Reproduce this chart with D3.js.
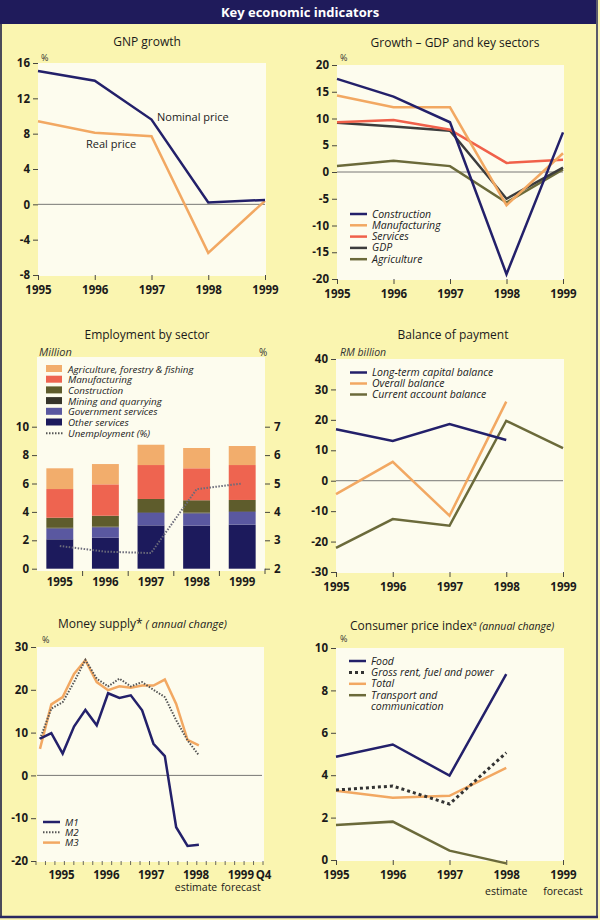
<!DOCTYPE html>
<html><head><meta charset="utf-8">
<script src="https://cdn.jsdelivr.net/npm/d3@7"></script>
<style>
body{margin:0;background:#faf6b4}
svg{display:block}
text{font-family:"Open Sans","Noto Sans",sans-serif;}
</style>
</head><body>
<script>
// ---------- DATA ----------
const years = [1995, 1996, 1997, 1998, 1999];

// GNP growth (%)
const gnpNominal = [15.1, 14.0, 9.6, 0.2, 0.5];
const gnpReal = [9.4, 8.1, 7.7, -5.5, 0.4];
const gnpTicks = [-8, -4, 0, 4, 8, 12, 16];

// Growth - GDP and key sectors (%)
const growthConstruction = [17.4, 14.1, 9.3, -19.1, 7.4];
const growthManufacturing = [14.3, 12.1, 12.1, -6.2, 3.5];
const growthServices = [9.3, 9.7, 7.9, 1.7, 2.3];
const growthGDP = [9.2, 8.5, 7.7, -5.0, 0.8];
const growthAgriculture = [1.1, 2.1, 1.1, -5.7, 0.5];
const growthTicks = [-20, -15, -10, -5, 0, 5, 10, 15, 20];

// Employment by sector (million) and unemployment (%)
const empOther = [2.07, 2.18, 3.05, 3.03, 3.10];
const empGovernment = [0.77, 0.74, 0.89, 0.87, 0.91];
const empMining = [0.04, 0.04, 0.05, 0.05, 0.05];
const empConstruction = [0.71, 0.77, 0.92, 0.87, 0.78];
const empManufacturing = [2.02, 2.21, 2.39, 2.25, 2.46];
const empAgriculture = [1.46, 1.43, 1.43, 1.43, 1.34];
const unemployment = [2.8, 2.6, 2.55, 4.8, 5.0];
const empTicks = [0, 2, 4, 6, 8, 10];
const unempTicks = [2, 3, 4, 5, 6, 7];

// Balance of payment (RM billion)
const bopLongTerm = [16.9, 13.1, 18.6, 13.4];
const bopOverall = [-4.4, 6.2, -11.5, 26.0];
const bopCurrent = [-22.1, -12.6, -14.8, 19.7, 10.7];
const bopTicks = [-30, -20, -10, 0, 10, 20, 30, 40];

// Money supply (annual change, %), quarterly
const moneyQuarters = ["1994Q4","1995Q1","1995Q2","1995Q3","1995Q4","1996Q1","1996Q2","1996Q3","1996Q4","1997Q1","1997Q2","1997Q3","1997Q4","1998Q1","1998Q2"];
const m1 = [8.6, 9.9, 5.1, 11.4, 15.3, 11.7, 19.2, 18.1, 18.7, 15.2, 7.4, 4.5, -12.1, -16.5, -16.2];
const m2 = [8.5, 15.6, 17.1, 21.8, 27.0, 22.6, 20.8, 22.6, 20.8, 21.8, 20.0, 18.3, 12.9, 8.2, 4.7];
const m3 = [6.2, 16.6, 18.3, 23.7, 26.9, 21.8, 19.9, 20.8, 20.5, 21.0, 21.0, 22.4, 16.7, 8.3, 7.0];
const moneyTicks = [-20, -10, 0, 10, 20, 30];
const moneyYearLabels = ["1995", "1996", "1997", "1998", "1999", "Q4"];
const moneySubLabels = ["", "", "", "estimate", "forecast", ""];

// Consumer price index (annual change, %)
const cpiFood = [4.87, 5.45, 3.98, 8.77];
const cpiRent = [3.30, 3.49, 2.64, 5.06];
const cpiTotal = [3.27, 2.94, 3.03, 4.35];
const cpiTransport = [1.65, 1.81, 0.44, -0.16];
const cpiTicks = [0, 2, 4, 6, 8, 10];
const cpiSubLabels = ["", "", "", "estimate", "forecast"];

// ---------- STYLE ----------
const C = {
  navy: "#23206a", orange: "#f2a862", red: "#f0604a", gray: "#3c3c3c", olive: "#6b6a3a",
  dark: "#1a1a1a", plotBg: "#fdfcee"
};

const svg = d3.select("body").append("svg").attr("width", 600).attr("height", 920);
svg.append("rect").attr("width", 600).attr("height", 920).attr("fill", "#faf5b0");
svg.append("rect").attr("x", 0).attr("y", 0).attr("width", 598).attr("height", 24).attr("fill", "#1f1b5b");
svg.append("text").attr("x", 300).attr("y", 17).attr("text-anchor", "middle")
  .attr("fill", "#fff").attr("font-size", 13).attr("font-weight", 700).text("Key economic  indicators");
svg.append("line").attr("x1", 1).attr("x2", 1).attr("y1", 24).attr("y2", 918).attr("stroke", "#4a4a5a").attr("stroke-width", 2);
svg.append("line").attr("x1", 597).attr("x2", 597).attr("y1", 0).attr("y2", 918).attr("stroke", "#5a5a6a").attr("stroke-width", 2);
svg.append("line").attr("x1", 0).attr("x2", 598).attr("y1", 917).attr("y2", 917).attr("stroke", "#2a2860").attr("stroke-width", 2.5);

function styleAxis(g) {
  g.select(".domain").remove();
  g.selectAll(".tick line").attr("stroke", "#333").attr("stroke-width", 0.9);
  g.selectAll(".tick text").attr("fill", C.dark).attr("font-size", 11.5).attr("font-weight", 700)
    .attr("font-family", '"Open Sans","Noto Sans",sans-serif');
}
const fmt = d => String(d);

function plotBg(x0, x1, y0, y1) {
  svg.append("rect").attr("x", x0).attr("y", y0).attr("width", x1 - x0).attr("height", y1 - y0).attr("fill", C.plotBg);
}
function title(x, y, txt, anchor) {
  return svg.append("text").attr("x", x).attr("y", y).attr("text-anchor", anchor || "middle")
    .attr("font-size", 12).attr("font-weight", 500).attr("fill", C.dark).text(txt);
}
function unit(x, y, txt, italic, size) {
  svg.append("text").attr("x", x).attr("y", y).attr("font-size", size || 9).attr("fill", "#333")
    .attr("font-style", italic ? "italic" : "normal").text(txt);
}
function drawLine(xs, ys, vals, xAccess, color, opts) {
  opts = opts || {};
  const line = d3.line().x((d, i) => xs(xAccess(i))).y(d => ys(d));
  svg.append("path").datum(vals).attr("d", line).attr("fill", "none")
    .attr("stroke", color).attr("stroke-width", opts.width || 2.5)
    .attr("stroke-dasharray", opts.dash || null).attr("stroke-linejoin", "miter");
}
function zeroLine(x0, x1, y) {
  svg.append("line").attr("x1", x0).attr("x2", x1).attr("y1", y).attr("y2", y).attr("stroke", "#555").attr("stroke-width", 0.8);
}
function legend(x, y, step, items, fs) {
  items.forEach((it, i) => {
    const yy = y + i * step;
    if (it.swatch) {
      svg.append("rect").attr("x", x).attr("y", yy - 4).attr("width", 16).attr("height", 7).attr("fill", it.color);
    } else if (it.color) {
      svg.append("line").attr("x1", x).attr("x2", x + 17).attr("y1", yy).attr("y2", yy)
        .attr("stroke", it.color).attr("stroke-width", it.width || 2.5).attr("stroke-dasharray", it.dash || null);
    }
    svg.append("text").attr("x", x + 22).attr("y", yy + 3.5).attr("font-size", fs || 10.5).attr("font-style", "italic")
      .attr("fill", "#222").text(it.label);
  });
}

// ---------- GNP growth ----------
(function () {
  const x = d3.scalePoint().domain(years).range([38, 265]);
  const y = d3.scaleLinear().domain([-8, 16]).range([275, 63]);
  plotBg(38, 266, 63, 276);
  title(147, 46, "GNP growth");
  unit(41, 61, "%");
  svg.append("g").attr("transform", "translate(38,0)")
    .call(d3.axisLeft(y).tickValues(gnpTicks).tickSize(5).tickPadding(3).tickFormat(fmt)).call(styleAxis);
  svg.append("g").attr("transform", "translate(0,275)")
    .call(d3.axisBottom(x).tickSize(5).tickPadding(6).tickFormat(fmt)).call(styleAxis);
  zeroLine(38, 265, y(0));
  drawLine(x, y, gnpReal, i => years[i], C.orange);
  drawLine(x, y, gnpNominal, i => years[i], C.navy);
  svg.append("text").attr("x", 157).attr("y", 121).attr("font-size", 11).attr("fill", "#222").text("Nominal price");
  svg.append("text").attr("x", 86).attr("y", 148).attr("font-size", 11).attr("fill", "#222").text("Real price");
})();

// ---------- Growth - GDP and key sectors ----------
(function () {
  const x = d3.scalePoint().domain(years).range([337, 563]);
  const y = d3.scaleLinear().domain([-20, 20]).range([279, 65]);
  plotBg(337, 564, 65, 280);
  title(455, 47, "Growth \u2013 GDP and key sectors");
  unit(340, 61, "%");
  svg.append("g").attr("transform", "translate(337,0)")
    .call(d3.axisLeft(y).tickValues(growthTicks).tickSize(5).tickPadding(3).tickFormat(fmt)).call(styleAxis);
  svg.append("g").attr("transform", "translate(0,279)")
    .call(d3.axisBottom(x).tickSize(5).tickPadding(6).tickFormat(fmt)).call(styleAxis);
  zeroLine(337, 563, y(0));
  const acc = i => years[i];
  drawLine(x, y, growthAgriculture, acc, C.olive);
  drawLine(x, y, growthGDP, acc, C.gray);
  drawLine(x, y, growthServices, acc, C.red);
  drawLine(x, y, growthManufacturing, acc, C.orange);
  drawLine(x, y, growthConstruction, acc, C.navy);
  legend(350, 214, 11.3, [
    { label: "Construction", color: C.navy },
    { label: "Manufacturing", color: C.orange },
    { label: "Services", color: C.red },
    { label: "GDP", color: C.gray },
    { label: "Agriculture", color: C.olive }
  ], 10.5);
})();

// ---------- Employment by sector ----------
(function () {
  const x = d3.scaleBand().domain(years).range([37, 265]).paddingInner(0.41).paddingOuter(0.205);
  const y = d3.scaleLinear().domain([0, 10]).range([568.7, 426.7]);
  const y2 = d3.scaleLinear().domain([2, 7]).range([568.7, 426.7]);
  plotBg(37, 265, 357, 571);
  title(147, 339, "Employment by sector");
  unit(39, 356, "Million", true, 11);
  unit(259, 356, "%", false, 10);
  const keys = ["other", "gov", "mining", "constr", "manuf", "agri"];
  const colors = { other: "#1c1a5c", gov: "#5a58a0", mining: "#36342a", constr: "#5e5c2c", manuf: "#ee6450", agri: "#f2ad6c" };
  const rows = years.map((yr, i) => ({
    year: yr, other: empOther[i], gov: empGovernment[i], mining: empMining[i],
    constr: empConstruction[i], manuf: empManufacturing[i], agri: empAgriculture[i]
  }));
  const stack = d3.stack().keys(keys)(rows);
  svg.append("g").selectAll("g").data(stack).join("g").attr("fill", d => colors[d.key])
    .selectAll("rect").data(d => d).join("rect")
    .attr("x", d => x(d.data.year)).attr("width", x.bandwidth())
    .attr("y", d => y(d[1])).attr("height", d => y(d[0]) - y(d[1]));

  svg.append("g").attr("transform", "translate(37,0)")
    .call(d3.axisLeft(y).tickValues(empTicks).tickSize(5).tickPadding(3).tickFormat(fmt)).call(styleAxis);
  svg.append("g").attr("transform", "translate(265,0)")
    .call(d3.axisRight(y2).tickValues(unempTicks).tickSize(5).tickPadding(4).tickFormat(fmt)).call(styleAxis);
  svg.append("line").attr("x1", 265).attr("x2", 265).attr("y1", 568.7).attr("y2", 574).attr("stroke", "#333").attr("stroke-width", 0.9);
  years.slice(0, -1).forEach(yr => {
    const xx = x(yr) + x.bandwidth() + (x.step() - x.bandwidth()) / 2;
    svg.append("line").attr("x1", xx).attr("x2", xx).attr("y1", 571).attr("y2", 576).attr("stroke", "#333").attr("stroke-width", 0.9);
  });
  years.forEach(yr => {
    svg.append("text").attr("x", x(yr) + x.bandwidth() / 2).attr("y", 586).attr("text-anchor", "middle")
      .attr("font-size", 11.5).attr("font-weight", 700).attr("fill", C.dark).text(yr);
  });
  const ul = d3.line().x((d, i) => x(years[i]) + x.bandwidth() / 2).y(d => y2(d));
  svg.append("path").datum(unemployment).attr("d", ul).attr("fill", "none")
    .attr("stroke", "#6a6a7a").attr("stroke-width", 2).attr("stroke-dasharray", "1.5,1.5");
  legend(46, 369, 10.7, [
    { label: "Agriculture, forestry & fishing", color: colors.agri, swatch: true },
    { label: "Manufacturing", color: colors.manuf, swatch: true },
    { label: "Construction", color: colors.constr, swatch: true },
    { label: "Mining and quarrying", color: colors.mining, swatch: true },
    { label: "Government services", color: colors.gov, swatch: true },
    { label: "Other services", color: colors.other, swatch: true },
    { label: "Unemployment (%)", color: "#555", dash: "1.5,1.5", width: 2 }
  ], 9.8);
})();

// ---------- Balance of payment ----------
(function () {
  const x = d3.scalePoint().domain(years).range([336, 563]);
  const y = d3.scaleLinear().domain([-30, 40]).range([572, 359]);
  plotBg(336, 564, 359, 573);
  title(453, 339, "Balance of payment");
  unit(340, 356, "RM billion", true, 10.5);
  svg.append("g").attr("transform", "translate(336,0)")
    .call(d3.axisLeft(y).tickValues(bopTicks).tickSize(5).tickPadding(3).tickFormat(fmt)).call(styleAxis);
  svg.append("g").attr("transform", "translate(0,572)")
    .call(d3.axisBottom(x).tickSize(5).tickPadding(6).tickFormat(fmt)).call(styleAxis);
  zeroLine(336, 563, y(0));
  const acc = i => years[i];
  drawLine(x, y, bopOverall, acc, C.orange);
  drawLine(x, y, bopCurrent, acc, C.olive);
  drawLine(x, y, bopLongTerm, acc, C.navy);
  legend(350, 372.5, 11, [
    { label: "Long-term capital balance", color: C.navy },
    { label: "Overall balance", color: C.orange },
    { label: "Current account balance", color: C.olive }
  ], 10.5);
})();

// ---------- Money supply ----------
(function () {
  const x = d3.scaleLinear().domain([-0.35, 19.65]).range([36, 263]);
  const y = d3.scaleLinear().domain([-20, 30]).range([861, 647]);
  plotBg(37, 264, 647, 862);
  const t = title(58, 628, "Money supply*", "start");
  t.append("tspan").attr("font-style", "italic").attr("font-size", 11).attr("font-weight", 400).text(" ( annual change)");
  unit(42, 643, "%");
  svg.append("g").attr("transform", "translate(36,0)")
    .call(d3.axisLeft(y).tickValues(moneyTicks).tickSize(5).tickPadding(3).tickFormat(fmt)).call(styleAxis);
  const minor = d3.range(0, 25).map(k => -0.35 + k * 20 / 24);
  svg.append("g").selectAll("line").data(minor).join("line")
    .attr("x1", d => x(d)).attr("x2", d => x(d)).attr("y1", 861).attr("y2", 865)
    .attr("stroke", "#444").attr("stroke-width", 0.8);
  moneyYearLabels.forEach((lab, i) => {
    const pos = i < 5 ? 1.9 + i * 3.95 : 19.7;
    svg.append("text").attr("x", x(pos)).attr("y", 879).attr("text-anchor", "middle")
      .attr("font-size", 11.5).attr("font-weight", 700).attr("fill", C.dark).text(lab);
    if (moneySubLabels[i]) svg.append("text").attr("x", x(pos)).attr("y", 891).attr("text-anchor", "middle")
      .attr("font-size", 10.5).attr("fill", C.dark).text(moneySubLabels[i]);
  });
  zeroLine(37, 262, y(0));
  const acc = i => i;
  drawLine(x, y, m3, acc, C.orange);
  drawLine(x, y, m2, acc, "#555", { width: 2, dash: "1.5,1.5" });
  drawLine(x, y, m1, acc, C.navy);
  legend(43, 822, 10.3, [
    { label: "M1", color: C.navy },
    { label: "M2", color: "#555", dash: "1.5,1.5", width: 2 },
    { label: "M3", color: C.orange }
  ], 9.8);
})();

// ---------- Consumer price index ----------
(function () {
  const x = d3.scalePoint().domain(years).range([336, 563]);
  const y = d3.scaleLinear().domain([0, 10]).range([860, 648]);
  plotBg(336, 564, 648, 861);
  const t = title(350, 630, "Consumer price index", "start");
  t.append("tspan").attr("font-size", 7).attr("dy", -4).text("a");
  t.append("tspan").attr("font-style", "italic").attr("font-size", 10.5).attr("font-weight", 400).attr("dy", 4).text(" (annual change)");
  unit(340, 642, "%");
  svg.append("g").attr("transform", "translate(336,0)")
    .call(d3.axisLeft(y).tickValues(cpiTicks).tickSize(5).tickPadding(3).tickFormat(fmt)).call(styleAxis);
  svg.append("g").attr("transform", "translate(0,860)")
    .call(d3.axisBottom(x).tickSize(5).tickPadding(6).tickFormat(fmt)).call(styleAxis);
  years.forEach((yr, i) => {
    if (cpiSubLabels[i]) svg.append("text").attr("x", x(yr)).attr("y", 895).attr("text-anchor", "middle")
      .attr("font-size", 10.5).attr("fill", C.dark).text(cpiSubLabels[i]);
  });
  const acc = i => years[i];
  drawLine(x, y, cpiTransport, acc, C.olive);
  drawLine(x, y, cpiTotal, acc, C.orange);
  drawLine(x, y, cpiRent, acc, "#333", { width: 3, dash: "3,3" });
  drawLine(x, y, cpiFood, acc, C.navy);
  legend(349, 661, 11.4, [
    { label: "Food", color: C.navy },
    { label: "Gross rent, fuel and power", color: "#333", dash: "3,3", width: 3 },
    { label: "Total", color: C.orange },
    { label: "Transport and", color: C.olive },
    { label: "communication" }
  ], 10.5);
})();
</script>
</body></html>
